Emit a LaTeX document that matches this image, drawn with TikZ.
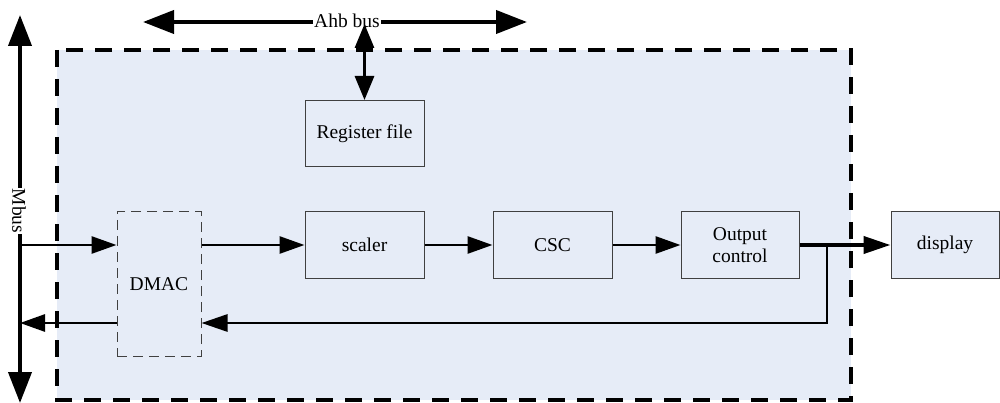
\documentclass[tikz,border=0pt]{standalone}
\usepackage{fontspec}
\setmainfont{Liberation Serif}
\usetikzlibrary{arrows.meta}
\definecolor{panel}{RGB}{230,236,247}
\definecolor{boxline}{RGB}{64,64,64}
\tikzset{
  blk/.style={draw=boxline, line width=1pt, fill=panel, minimum width=119pt, minimum height=66pt, inner sep=0pt, align=center},
  conn/.style={line width=2.8pt, -{Triangle[length=25pt,width=17pt]}},
  bus/.style={line width=4pt, {Triangle[length=31pt,width=23pt]}-{Triangle[length=31pt,width=23pt]}},
  buslabel/.style={fill=white, inner sep=1pt},
}
\begin{document}
\begin{tikzpicture}[x=1pt,y=-1pt, font=\fontsize{19.5}{22.5}\selectfont]
\useasboundingbox (0,0) rectangle (1000,403);
% system panel
\draw[line width=3.5pt, dash pattern=on 17pt off 12pt, fill=panel] (57,50) rectangle (851,400);
% blocks
\node[blk] (reg) at (364.5,133.5) {Register file};
\node[blk] (scaler) at (364.5,245) {scaler};
\node[blk] (csc) at (552.5,245) {CSC};
\node[blk, minimum width=118pt] (outc) at (740,245) {Output\\control};
\node[blk, minimum width=108pt] (disp) at (945,245) {display};
\node[draw=boxline, line width=1pt, dash pattern=on 10pt off 6pt, minimum width=84pt, minimum height=144pt, inner sep=0pt] (dmac) at (159,284) {DMAC};
% Mbus
\coordinate (mbusT) at (20,15);
\coordinate (mbusB) at (20,403);
\draw[bus] (mbusT) -- (mbusB);
\node[buslabel, rotate=-90] (mbus) at (19,211) {Mbus};
% Ahb bus
\coordinate (ahbL) at (143,22);
\coordinate (ahbR) at (527,22);
\draw[bus] (ahbL) -- (ahbR);
\node[buslabel] (ahb) at (347,21) {Ahb bus};
\coordinate (ahbJ) at (364.5,24);
\draw[line width=3pt, {Triangle[length=24pt,width=19pt]}-{Triangle[length=24pt,width=19pt]}] (ahbJ) -- (reg.north);
% data path
\draw[conn] (mbusT |- scaler.west) -- (dmac.west |- scaler.west);
\draw[conn] (dmac.east |- scaler.west) -- (scaler.west);
\draw[conn] (scaler.east) -- (csc.west);
\draw[conn] (csc.east) -- (outc.west);
\draw[conn, line width=4pt, -{Triangle[length=27pt,width=17pt]}] (outc.east) -- (disp.west);
\coordinate (fb) at (827,323);
\draw[conn, -{Triangle[length=26pt,width=17pt]}] (outc.east -| fb) -- (fb) -- (dmac.east |- fb);
\draw[conn] (dmac.west |- fb) -- (mbusT |- fb);
\end{tikzpicture}
\end{document}
